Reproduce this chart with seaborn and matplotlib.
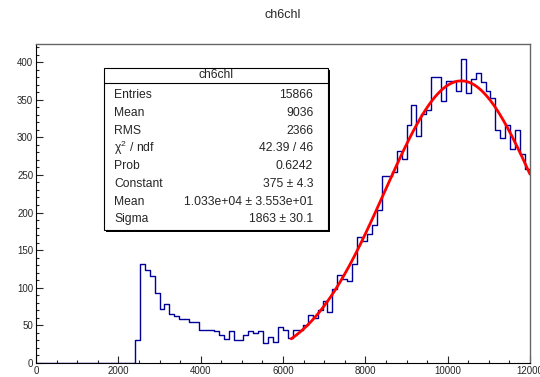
import numpy as np
import pandas as pd
import matplotlib
matplotlib.use('Agg')
import matplotlib.pyplot as plt
from matplotlib.ticker import MultipleLocator
from matplotlib.patches import Rectangle
import seaborn as sns

# histogram: 100 bins of 120 over 0..12000, first 20 bins empty
bin_width = 120
x_range = (0, 12000)
counts = [0] * 20 + [
    30, 132, 124, 116, 93, 72, 79, 65, 62, 58,
    58, 54, 54, 44, 44, 44, 42, 37, 32, 42,
    31, 31, 37, 42, 40, 42, 27, 35, 28, 48,
    44, 33, 44, 44, 50, 64, 60, 70, 83, 68,
    98, 117, 111, 109, 132, 167, 162, 171, 183, 203,
    248, 248, 254, 282, 271, 316, 343, 302, 331, 336,
    380, 380, 348, 375, 375, 362, 404, 359, 377, 385,
    373, 362, 352, 310, 299, 316, 284, 310, 278, 258,
]

# gaussian fit parameters (from the stats box)
fit_const = 375.0
fit_mean = 1.033e4
fit_sigma = 1863.0
fit_range = (6200, 12000)

stat_labels = ['Entries', 'Mean', 'RMS', r'$\chi^2$ / ndf', 'Prob',
               'Constant', 'Mean', 'Sigma']
stat_values = ['15866', '9036', '2366', '42.39 / 46', '0.6242',
               '375 \u00b1 4.3', '1.033e+04 \u00b1 3.553e+01', '1863 \u00b1 30.1']

sns.set_style('white')
plt.rcParams['font.family'] = ['Liberation Sans', 'DejaVu Sans']
plt.rcParams['mathtext.fontset'] = 'custom'
plt.rcParams['mathtext.rm'] = 'Liberation Sans'
plt.rcParams['mathtext.it'] = 'Liberation Sans'

fig = plt.figure(figsize=(5.4, 3.77), dpi=100)
ax = fig.add_axes([36 / 540, 14 / 377, 494 / 540, 319 / 377])

centers = np.arange(x_range[0], x_range[1], bin_width) + bin_width / 2
df = pd.DataFrame({'x': centers, 'w': np.asarray(counts, dtype=float)})
sns.histplot(data=df, x='x', weights='w', binwidth=bin_width, binrange=x_range,
             element='step', fill=False, color='#000099', linewidth=1.0, ax=ax)

xf = np.linspace(fit_range[0], fit_range[1], 300)
yf = fit_const * np.exp(-0.5 * ((xf - fit_mean) / fit_sigma) ** 2)
sns.lineplot(x=xf, y=yf, color='red', linewidth=2.0, ax=ax)

ax.set_xlim(0, 12000)
ax.set_ylim(0, 424)
ax.set_xlabel('')
ax.set_ylabel('')
ax.xaxis.set_major_locator(MultipleLocator(2000))
ax.xaxis.set_minor_locator(MultipleLocator(500))
ax.yaxis.set_major_locator(MultipleLocator(50))
ax.yaxis.set_minor_locator(MultipleLocator(10))
ax.tick_params(axis='both', which='both', direction='in', labelsize=7,
               top=False, right=False, bottom=True, left=True, pad=2)
ax.tick_params(which='major', length=5, width=0.8)
ax.tick_params(which='minor', length=2.5, width=0.8)
for s in ['left', 'bottom']:
    ax.spines[s].set_color('black')
    ax.spines[s].set_linewidth(0.8)
for s in ['top', 'right']:
    ax.spines[s].set_color('#666666')
    ax.spines[s].set_linewidth(1.0)

fig.text(283 / 540, 1 - 15 / 377, 'ch6chl', ha='center', va='center', fontsize=9)

# stats box
bx0, bx1 = 0.138, 0.591
by0, by1 = 0.417, 0.925
sep = 0.878
ax.add_patch(Rectangle((bx0 + 0.004, by0 - 0.007), bx1 - bx0, by1 - by0,
                       transform=ax.transAxes, facecolor='black',
                       edgecolor='none', zorder=4))
ax.add_patch(Rectangle((bx0, by0), bx1 - bx0, by1 - by0, transform=ax.transAxes,
                       facecolor='white', edgecolor='black', linewidth=0.8,
                       zorder=5))
ax.plot([bx0, bx1], [sep, sep], transform=ax.transAxes, color='black',
        linewidth=0.8, zorder=6)
ax.text((bx0 + bx1) / 2, (sep + by1) / 2, 'ch6chl', transform=ax.transAxes,
        ha='center', va='center', fontsize=8.7, zorder=7)
row_top = 0.840
row_step = 0.0557
for i, (lab, val) in enumerate(zip(stat_labels, stat_values)):
    yy = row_top - i * row_step
    ax.text(bx0 + 0.02, yy, lab, transform=ax.transAxes, ha='left',
            va='center', fontsize=8.7, zorder=7)
    ax.text(bx1 - 0.03, yy, val, transform=ax.transAxes, ha='right',
            va='center', fontsize=8.7, zorder=7)

fig.savefig('out.png', dpi=100)
